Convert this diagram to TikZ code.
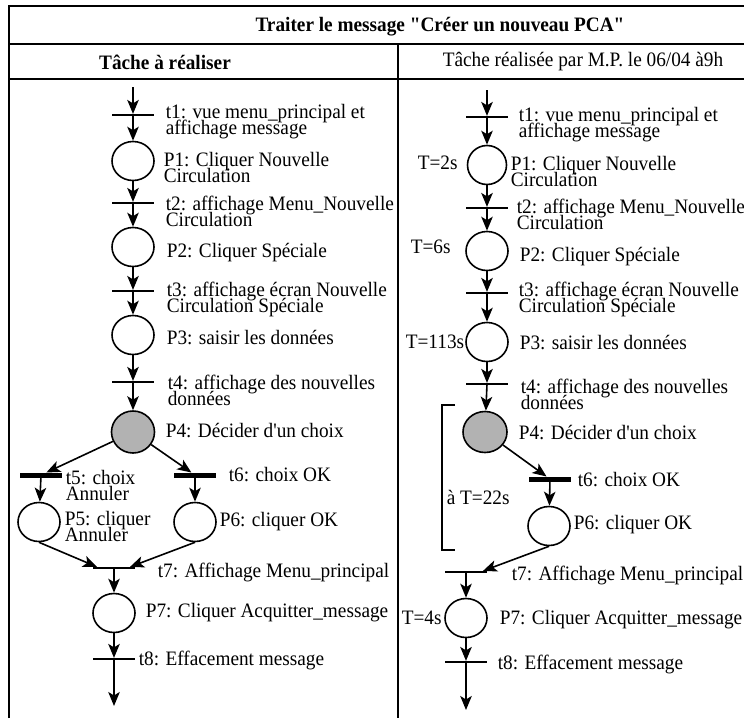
\documentclass[tikz,border=0pt]{standalone}
\usepackage{fontspec}
\setmainfont{Liberation Serif}[Ligatures=TeXOff, FakeStretch=0.94]
\usetikzlibrary{shapes.geometric,arrows.meta}

\newcommand{\lblfont}{\fontsize{20.5}{16}\selectfont\lineskiplimit=-30pt\relax}

\begin{document}
\begin{tikzpicture}[x=1pt, y=-1pt, line width=1.6pt,
    >={Stealth[length=14pt,width=11.5pt,inset=3.5pt]},
    place/.style={draw, ellipse, minimum width=42pt, minimum height=39pt, inner sep=0pt},
    choice/.style={place, fill=gray!60},
    tbar/.style={fill=black, minimum width=42pt, minimum height=2.2pt, inner sep=0pt, outer sep=0pt},
    tbarthick/.style={tbar, minimum height=5pt},
    txt/.style={anchor=west, align=left, inner sep=0pt, font=\lblfont},
    head/.style={inner sep=0pt, font=\lblfont}]

    \useasboundingbox (0,0) rectangle (744,718);

    % Table frame
    \draw[line width=2.4pt] (9,718) -- (9,6) -- (744,6);
    \draw[line width=2.4pt] (9,44) -- (744,44);
    \draw[line width=2.4pt] (9,79) -- (744,79);
    \draw[line width=2pt] (398,44) -- (398,718);

    % Headings
    \node[head] (title) at (440,27) {\bfseries Traiter le message "Créer un nouveau PCA"};
    \node[head] (headA) at (165,62) {\bfseries Tâche à réaliser};
    \node[head] (headB) at (583,62) {Tâche réalisée par M.P. le 06/04 à9h};

    % ---------- Left column: task to do ----------
    \coordinate (in) at (133,87);
    \node[tbar] (t1) at (133,115) {};
    \node[place] (P1) at (133,161) {};
    \node[tbar] (t2) at (133,203) {};
    \node[place] (P2) at (133,247) {};
    \node[tbar] (t3) at (133,291) {};
    \node[place] (P3) at (133,335) {};
    \node[tbar] (t4) at (133,382) {};
    \node[choice, minimum height=42pt, minimum width=43pt] (P4) at (133,432) {};
    \node[tbarthick] (t5) at (41,475) {};
    \node[tbarthick] (t6) at (195,475) {};
    \node[place] (P5) at (39,522) {};
    \node[place] (P6) at (195,522) {};
    \node[tbar] (t7) at (114,568) {};
    \node[place] (P7) at (114,613) {};
    \node[tbar] (t8) at (114,659) {};
    \coordinate (out) at (114,706);

    % Arcs
    \draw[->] (in) -- (t1);
    \draw[->] (t1) -- (P1);
    \draw[->] (P1) -- (t2);
    \draw[->] (t2) -- (P2);
    \draw[->] (P2) -- (t3);
    \draw[->] (t3) -- (P3);
    \draw[->] (P3) -- (t4);
    \draw[->] (t4) -- (P4);
    \draw[->] (P4) -- (t5);
    \draw[->] (P4) -- (t6);
    \draw[->] (t5) -- (P5);
    \draw[->] (t6) -- (P6);
    \draw[->] (P5.south) -- ([xshift=4pt]t7.north west);
    \draw[->] (P6.south) -- ([xshift=-5pt]t7.north east);
    \draw[->] (t7) -- (P7);
    \draw[->] (P7) -- (t8);
    \draw[->] (t8) -- (out);

    % Labels
    \node[txt] (Lt1) at (165,122) {t1: vue menu\_principal et\\affichage message};
    \node[txt] (LP1) at (163,167) {P1: Cliquer Nouvelle\\Circulation};
    \node[txt] (Lt2) at (165,211) {t2: affichage Menu\_Nouvelle\\Circulation};
    \node[txt] (LP2) at (166,253) {P2: Cliquer Spéciale};
    \node[txt] (Lt3) at (166,299) {t3: affichage écran Nouvelle\\Circulation Spéciale};
    \node[txt] (LP3) at (166,338) {P3: saisir les données};
    \node[txt] (Lt4) at (167,390) {t4: affichage des nouvelles\\données};
    \node[txt] (LP4) at (165,431) {P4: Décider d'un choix};
    \node[txt] (Lt5) at (65,485) {t5: choix\\Annuler};
    \node[txt] (Lt6) at (228,475) {t6: choix OK};
    \node[txt] (LP5) at (64,526) {P5: cliquer\\Annuler};
    \node[txt] (LP6) at (219,522) {P6: cliquer OK};
    \node[txt] (Lt7) at (157,572) {t7: Affichage Menu\_principal};
    \node[txt] (LP7) at (145,613) {P7: Cliquer Acquitter\_message};
    \node[txt] (Lt8) at (138,660) {t8: Effacement message};

    % ---------- Right column: task done by M.P. ----------
    \coordinate (rin) at (487,90);
    \node[tbar] (rt1) at (487,117) {};
    \node[place, minimum width=39pt] (rP1) at (487,165) {};
    \node[tbar] (rt2) at (487,208) {};
    \node[place] (rP2) at (487,251) {};
    \node[tbar] (rt3) at (487,293) {};
    \node[place] (rP3) at (487,342) {};
    \node[tbar] (rt4) at (487,384) {};
    \node[choice, minimum height=41pt, minimum width=44pt] (rP4) at (485,432) {};
    \node[tbarthick] (rt6) at (550,479) {};
    \node[place] (rP6) at (549,526) {};
    \node[tbar] (rt7) at (466,572) {};
    \node[place] (rP7) at (466,618) {};
    \node[tbar] (rt8) at (466,662) {};
    \coordinate (rout) at (466,710);

    % Arcs
    \draw[->] (rin) -- (rt1);
    \draw[->] (rt1) -- (rP1);
    \draw[->] (rP1) -- (rt2);
    \draw[->] (rt2) -- (rP2);
    \draw[->] (rP2) -- (rt3);
    \draw[->] (rt3) -- (rP3);
    \draw[->] (rP3) -- (rt4);
    \draw[->] (rt4) -- (rP4);
    \draw[->] (rP4) -- (rt6);
    \draw[->] (rt6) -- (rP6);
    \draw[->] (rP6.south) -- ([xshift=-4pt]rt7.north east);
    \draw[->] (rt7) -- (rP7);
    \draw[->] (rP7) -- (rt8);
    \draw[->] (rt8) -- (rout);

    % Bracket round P4 -- P6
    \draw (455,405) -- (442,405) -- (442,550) -- (455,550);

    % Labels
    \node[txt] (rLt1) at (518,125) {t1: vue menu\_principal et\\affichage message};
    \node[txt] (rT1) at (417,163) {T=2s};
    \node[txt] (rLP1) at (510,171) {P1: Cliquer Nouvelle\\Circulation};
    \node[txt] (rLt2) at (516,214) {t2: affichage Menu\_Nouvelle\\Circulation};
    \node[txt] (rT2) at (410,247) {T=6s};
    \node[txt] (rLP2) at (519,257) {P2: Cliquer Spéciale};
    \node[txt] (rLt3) at (518,299) {t3: affichage écran Nouvelle\\Circulation Spéciale};
    \node[txt] (rT3) at (405,342) {T=113s};
    \node[txt] (rLP3) at (519,343) {P3: saisir les données};
    \node[txt] (rLt4) at (520,394) {t4: affichage des nouvelles\\données};
    \node[txt] (rLP4) at (518,433) {P4: Décider d'un choix};
    \node[txt] (rLt6) at (577,480) {t6: choix OK};
    \node[txt] (rT4) at (446,497) {à T=22s};
    \node[txt] (rLP6) at (573,525) {P6: cliquer OK};
    \node[txt] (rLt7) at (511,575) {t7: Affichage Menu\_principal};
    \node[txt] (rT5) at (401,618) {T=4s};
    \node[txt] (rLP7) at (499,620) {P7: Cliquer Acquitter\_message};
    \node[txt] (rLt8) at (497,664) {t8: Effacement message};

\end{tikzpicture}
\end{document}
